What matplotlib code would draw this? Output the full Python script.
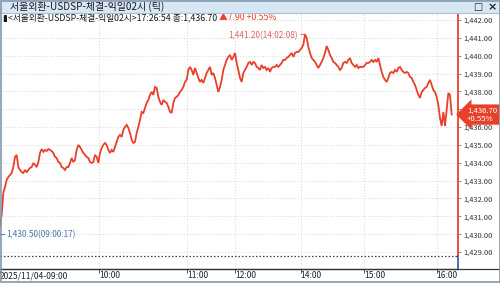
import matplotlib
matplotlib.use("Agg")
import matplotlib.pyplot as plt
from matplotlib.ticker import FuncFormatter, FixedLocator
from matplotlib.patches import Rectangle
from matplotlib.lines import Line2D

plt.rcParams['font.family'] = ['Noto Sans CJK KR', 'DejaVu Sans']

# ---------------- data ----------------
prices = [
    1430.50, 1431.08, 1432.31, 1432.64, 1433.04, 1433.20, 1433.32, 1433.43, 1433.76, 1434.33,
    1434.44, 1433.76, 1433.60, 1433.48, 1433.43, 1433.60, 1433.48, 1433.60, 1433.71, 1433.76,
    1433.99, 1433.88, 1433.76, 1434.04, 1434.55, 1434.77, 1434.61, 1434.72, 1434.66, 1434.77,
    1434.72, 1434.66, 1434.55, 1434.33, 1434.27, 1434.04, 1433.99, 1433.76, 1433.71, 1433.60,
    1433.76, 1433.76, 1433.99, 1434.27, 1434.04, 1434.16, 1434.72, 1435.00, 1434.89, 1434.72,
    1434.55, 1434.44, 1434.33, 1434.27, 1434.04, 1433.99, 1434.04, 1434.44, 1434.33, 1433.99,
    1434.55, 1434.83, 1435.00, 1435.11, 1435.00, 1434.72, 1434.55, 1434.72, 1434.61, 1434.89,
    1435.17, 1435.45, 1435.56, 1435.45, 1435.84, 1436.01, 1436.12, 1435.95, 1435.67, 1435.28,
    1435.11, 1435.17, 1435.67, 1436.01, 1436.40, 1436.85, 1436.79, 1437.07, 1437.35, 1437.52,
    1437.80, 1437.97, 1437.80, 1438.25, 1438.19, 1437.69, 1437.41, 1437.24, 1437.52, 1437.41,
    1437.35, 1437.13, 1436.85, 1436.79, 1437.35, 1437.63, 1437.69, 1437.80, 1437.97, 1438.08,
    1438.25, 1438.53, 1438.64, 1439.20, 1439.37, 1439.20, 1438.92, 1439.31, 1439.03, 1438.75,
    1438.53, 1438.64, 1438.47, 1438.75, 1439.03, 1439.20, 1439.37, 1438.92, 1439.03, 1438.75,
    1438.36, 1437.97, 1438.25, 1438.64, 1439.20, 1439.48, 1439.76, 1439.93, 1440.04, 1439.76,
    1439.93, 1440.15, 1439.59, 1439.20, 1438.75, 1438.53, 1439.03, 1439.20, 1439.37, 1439.59,
    1439.65, 1439.48, 1439.65, 1439.59, 1439.37, 1439.31, 1439.20, 1439.48, 1439.31, 1439.37,
    1439.20, 1439.31, 1439.09, 1439.31, 1439.37, 1439.37, 1439.48, 1439.37, 1439.48, 1439.59,
    1439.76, 1439.76, 1439.87, 1439.93, 1440.04, 1440.15, 1439.93, 1440.15, 1440.21, 1440.21,
    1440.32, 1440.43, 1440.60, 1441.20, 1440.99, 1440.49, 1440.15, 1439.87, 1439.76, 1439.65,
    1439.48, 1439.31, 1439.48, 1439.65, 1439.87, 1440.15, 1440.54, 1440.32, 1440.04, 1439.87,
    1439.65, 1439.59, 1439.48, 1439.37, 1439.20, 1439.31, 1439.59, 1439.65, 1439.59, 1439.76,
    1439.87, 1439.59, 1439.48, 1439.37, 1439.48, 1439.31, 1439.37, 1439.37, 1439.37, 1439.48,
    1439.59, 1439.59, 1439.65, 1439.76, 1439.65, 1439.76, 1439.65, 1439.87, 1439.48, 1439.09,
    1438.81, 1438.64, 1438.53, 1438.75, 1439.03, 1439.09, 1439.03, 1439.20, 1439.09, 1439.31,
    1439.37, 1439.20, 1439.09, 1439.03, 1439.09, 1439.03, 1438.81, 1438.75, 1438.53, 1438.36,
    1438.08, 1437.80, 1437.63, 1437.97, 1438.08, 1438.19, 1438.25, 1438.47, 1438.64, 1438.36,
    1438.08, 1437.97, 1437.69, 1437.24, 1436.51, 1436.06, 1436.85, 1436.06, 1436.96, 1437.91,
    1437.80, 1436.70,
]
tick_pos = [0, 59.6, 112.4, 141.2, 180.4, 218.6, 262.0]
tick_labels = ["2025/11/04-09:00", "10:00", "11:00", "12:00", "14:00", "15:00", "16:00"]
yticks = list(range(1429, 1443))
prev_close = 1428.80
change = 7.90
change_pct = 0.55
last_time = "17:26:54"
max_label = "1,441.20(14:02:08)"
min_label = "1,430.50(09:00:17)"
title = "서울외환-USDSP-체결-익일02시 (틱)"
series_name = "서울외환-USDSP-체결-익일02시"

# ---------------- style ----------------
RED = "#e8402a"
BLUE = "#3b64a6"
GRID = "#d4d4d4"
W, H = 500, 283

fig = plt.figure(figsize=(W / 100, H / 100), dpi=100)
fig.patch.set_facecolor("white")

ax_top_px, ax_bot_px, ax_right_px = 13, 269, 458
ax = fig.add_axes([0, (H - ax_bot_px) / H, ax_right_px / W, (ax_bot_px - ax_top_px) / H])
ax.set_facecolor("white")

x = list(range(len(prices)))
ax.plot(x, prices, color=RED, lw=1.3, solid_joinstyle="miter", zorder=5)

ax.set_xlim(0, 274.8)
ax.set_ylim(1428.05, 1442.39)

# grid
for v in yticks:
    ax.axhline(v, color=GRID, lw=0.7, ls=(0, (1, 2)), zorder=1)
for t in tick_pos[1:]:
    ax.axvline(t, color=GRID, lw=0.7, ls=(0, (1, 2)), zorder=1)
ax.axhline(prev_close, color="#444444", lw=0.9, ls=(0, (1.2, 1.6)), zorder=2)

# spines
for s in ["top", "left", "right"]:
    ax.spines[s].set_visible(False)
ax.spines["bottom"].set_color("#333333")
ax.spines["bottom"].set_linewidth(0.9)

# right axis line: red above prev close, blue below
ylo, yhi = ax.get_ylim()
xr = ax.get_xlim()[1]
ax.plot([xr, xr], [prev_close, yhi], color=RED, lw=1.3, clip_on=False, zorder=6)
ax.plot([xr, xr], [ylo, prev_close], color=BLUE, lw=1.3, clip_on=False, zorder=6)

last = prices[-1]

# y ticks on right (label hidden where the price tag covers it)
ax.yaxis.tick_right()
ax.yaxis.set_major_locator(FixedLocator(yticks))
ax.yaxis.set_major_formatter(FuncFormatter(
    lambda v, p: "" if abs(v - last) < 0.6 else f"{v:,.2f}"))
ax.tick_params(axis="y", direction="out", length=2.5, width=0.6, color="#777777",
               labelsize=5.4, labelcolor="#333333", pad=1)

# x ticks
ax.xaxis.set_major_locator(FixedLocator(tick_pos))
ax.set_xticklabels(tick_labels)
ax.tick_params(axis="x", direction="out", length=3, width=0.6, color="#333333",
               labelsize=6.1, labelcolor="#222222", pad=-1.5)
for lab in ax.get_xticklabels():
    lab.set_horizontalalignment("left")

# max / min annotations
imax = prices.index(max(prices))
ax.annotate(max_label, xy=(imax, prices[imax]), xytext=(-7, -1), textcoords="offset pixels",
            ha="right", va="center", fontsize=5.9, color="#d9675e",
            arrowprops=dict(arrowstyle="-", color="#d9675e", lw=0.7, shrinkA=0, shrinkB=0),
            zorder=7)
imin = prices.index(min(prices))
ax.annotate(min_label, xy=(imin, prices[imin]), xytext=(6, -9), textcoords="offset pixels",
            ha="left", va="center", fontsize=5.9, color="#4a72a6", zorder=7)
ax.plot([imin, imin + 2.2], [prices[imin] - 0.5, prices[imin] - 0.5], color="#4a72a6", lw=0.7,
        zorder=7, clip_on=False)

# current price tag
ax.annotate(f"{last:,.2f}\n+{change_pct:.2f}%", xy=(1, last), xycoords=("axes fraction", "data"),
            xytext=(9, 0), textcoords="offset pixels", ha="left", va="center",
            fontsize=5.6, color="white", linespacing=1.0, annotation_clip=False,
            bbox=dict(boxstyle="larrow,pad=0.28", fc=RED, ec="none"), zorder=8)

# title bar
fig.patches.append(Rectangle((0, 1 - ax_top_px / H), 1, ax_top_px / H, transform=fig.transFigure,
                             fc="#d8e7f4", ec="none", zorder=0))
fig.lines.append(Line2D([0, 1], [1 - ax_top_px / H] * 2, transform=fig.transFigure,
                        color="#a8bfd6", lw=0.8))
fig.text(10 / W, 1 - 6.8 / H, title, fontsize=7.2, color="#1a1a1a", va="center", ha="left")
fig.text(478 / W, 1 - 6.8 / H, "□", fontsize=7, color="#222222", va="center", ha="center",
         family=["DejaVu Sans"])
fig.text(492 / W, 1 - 6.8 / H, "×", fontsize=8, color="#222222", va="center", ha="center",
         family=["DejaVu Sans"], weight="bold")

# header line inside chart
t1 = fig.text(3 / W, 1 - 17.5 / H,
              f"▮<{series_name}>{last_time} 종:{last:,.2f} ",
              fontsize=6.3, color="#1a1a1a", va="center", ha="left")
ax.annotate(f"▲{change:.2f} +{change_pct:.2f}%", xy=(1, 0), xycoords=t1, va="bottom", ha="left",
            fontsize=6.3, color=RED, annotation_clip=False)

# bottom axis line full width and outer border
fig.lines.append(Line2D([0, 1], [(H - ax_bot_px) / H] * 2, transform=fig.transFigure,
                        color="#333333", lw=0.9))
fig.patches.append(Rectangle((0.001, 0.002), 0.998, 0.996, transform=fig.transFigure,
                             fc="none", ec="#8497ab", lw=1.2, zorder=10))

fig.savefig("out.png", dpi=100, facecolor="white")
